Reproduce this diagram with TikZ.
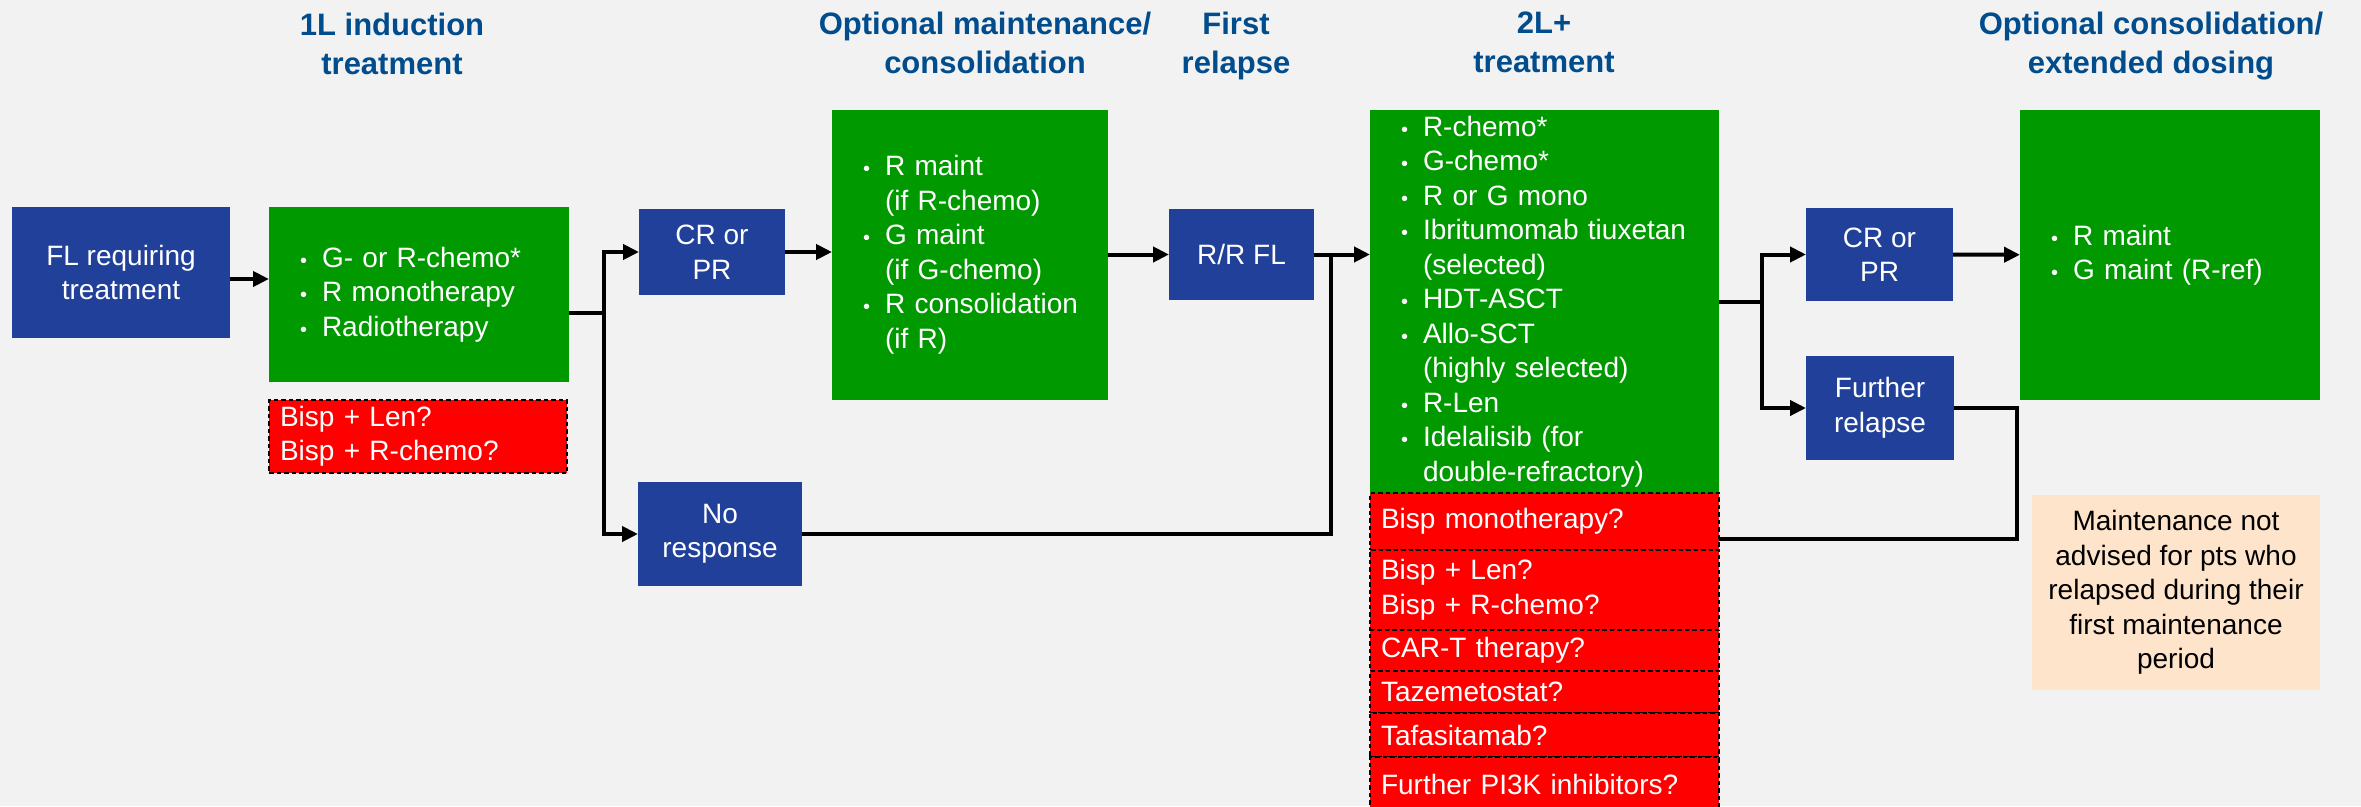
\documentclass[tikz,border=0pt]{standalone}
\usepackage{fontspec}
\setmainfont{Liberation Sans}
\usetikzlibrary{arrows.meta,calc}
\definecolor{bg}{RGB}{242,242,242}
\definecolor{bblue}{RGB}{33,64,154}
\definecolor{bgreen}{RGB}{0,153,0}
\definecolor{bred}{RGB}{255,0,0}
\definecolor{peach}{RGB}{253,228,202}
\definecolor{ttl}{RGB}{0,76,140}
\newcommand\bitem[1]{\mbox{\makebox[22pt][l]{\fontsize{20pt}{20pt}\selectfont\textbullet}#1}}
\newcommand\bcont[1]{\mbox{\hspace*{22pt}#1}}
\tikzset{
  box/.style={inner sep=0pt, outer sep=0pt, anchor=north west, font=\fontsize{28pt}{34.5pt}\selectfont},
  bluebox/.style={box, fill=bblue, text=white, align=center},
  greenbox/.style={box, fill=bgreen, text=white, align=left, inner xsep=31pt},
  redbox/.style={box, fill=bred, text=white, align=left, inner xsep=11pt, draw=black, line width=1.5pt, dash pattern=on 4.5pt off 3pt},
  notebox/.style={box, fill=peach, text=black, align=center},
  heading/.style={anchor=north, inner sep=0pt, text=ttl, font=\bfseries\fontsize{31pt}{39pt}\selectfont, align=center},
  arr/.style={line width=4pt, -{Triangle[length=16pt,width=15pt]}},
  conn/.style={line width=4pt}
}
\begin{document}
\begin{tikzpicture}[x=1pt,y=-1pt]
\useasboundingbox (0,0) rectangle (2361,806);
\fill[bg] (0,0) rectangle (2361,806);

% headings
\node[heading] (t1) at (392,13) {1L induction\\treatment};
\node[heading] (t2) at (985,12) {Optional maintenance/\\consolidation};
\node[heading] (t3) at (1236,12) {First\\relapse};
\node[heading] (t4) at (1544,12) {2L+\\treatment};
\node[heading] (t5) at (2151,12) {Optional consolidation/\\extended dosing};

% blue boxes
\node[bluebox, minimum width=218pt, minimum height=131pt] (fl) at (12,207) {FL requiring\\treatment};
\node[bluebox, minimum width=146pt, minimum height=86pt] (cr1) at (639,209) {CR or\\PR};
\node[bluebox, minimum width=164pt, minimum height=104pt] (nr) at (638,482) {No\\response};
\node[bluebox, minimum width=145pt, minimum height=91pt] (rr) at (1169,209) {R/R FL};
\node[bluebox, minimum width=147pt, minimum height=93pt] (cr2) at (1806,208) {CR or\\PR};
\node[bluebox, minimum width=148pt, minimum height=104pt] (fr) at (1806,356) {Further\\relapse};

% green boxes
\node[greenbox, text width=238pt, minimum height=175pt] (g1) at (269,207)
  {\bitem{G- or R-chemo*}\\\bitem{R monotherapy}\\\bitem{Radiotherapy}};
\node[greenbox, text width=214pt, minimum height=290pt] (maint) at (832,110)
  {\bitem{R maint}\\\bcont{(if R-chemo)}\\\bitem{G maint}\\\bcont{(if G-chemo)}\\\bitem{R consolidation}\\\bcont{(if R)}};
\node[greenbox, text width=287pt, minimum height=383pt] (g2) at (1370,110)
  {\bitem{R-chemo*}\\\bitem{G-chemo*}\\\bitem{R or G mono}\\\bitem{Ibritumomab tiuxetan}\\\bcont{(selected)}\\\bitem{HDT-ASCT}\\\bitem{Allo-SCT}\\\bcont{(highly selected)}\\\bitem{R-Len}\\\bitem{Idelalisib (for}\\\bcont{double-refractory)}};
\node[greenbox, text width=238pt, minimum height=290pt] (g3) at (2020,110)
  {\bitem{R maint}\\\bitem{G maint (R-ref)}};

% red boxes
\node[redbox, text width=276pt, minimum height=73pt] (r1) at (269,400) {Bisp + Len?\\Bisp + R-chemo?};
\node[redbox, text width=327pt, minimum height=57pt] (bm) at (1370,493) {Bisp monotherapy?};
\node[redbox, text width=327pt, minimum height=80pt] (bl) at (1370,550) {Bisp + Len?\\Bisp + R-chemo?};
\node[redbox, text width=327pt, minimum height=41pt] (ct) at (1370,630) {CAR-T therapy?};
\node[redbox, text width=327pt, minimum height=42pt] (tz) at (1370,671) {Tazemetostat?};
\node[redbox, text width=327pt, minimum height=44pt] (tf) at (1370,713) {Tafasitamab?};
\node[redbox, text width=327pt, minimum height=54pt, text depth=0pt] (pi) at (1370,757) {\raisebox{0pt}[0pt][0pt]{}Further PI3K inhibitors?\rule[-4pt]{0pt}{0pt}};

% note
\node[notebox, minimum width=288pt, minimum height=195pt] (note) at (2032,495)
  {Maintenance not\\advised for pts who\\relapsed during their\\first maintenance\\period};

% connectors
\draw[arr] (fl.east |- 0,279) -- (g1.west |- 0,279);
\coordinate (b1) at (604,313);
\draw[conn] (g1.east |- b1) -- (b1);
\draw[arr] (b1) |- (cr1);
\draw[arr] (b1) |- (nr);
\draw[arr] (cr1.east) -- (cr1.east -| maint.west);
\draw[arr] (maint.east |- rr.west) -- (rr.west);
\draw[arr] (rr.east) -- (rr.east -| g2.west);
\coordinate (j1) at (1331,254.5);
\draw[conn] (nr.east) -| (j1);
\coordinate (b2) at (1762,302);
\draw[conn] (g2.east |- b2) -- (b2);
\draw[arr] (b2) |- (cr2);
\draw[arr] (b2) |- (fr);
\draw[arr] (cr2) -- (g3);
\coordinate (c2) at (2017,539);
\draw[conn] (fr.east) -| (c2) -- (bm.east |- c2);
\end{tikzpicture}
\end{document}
